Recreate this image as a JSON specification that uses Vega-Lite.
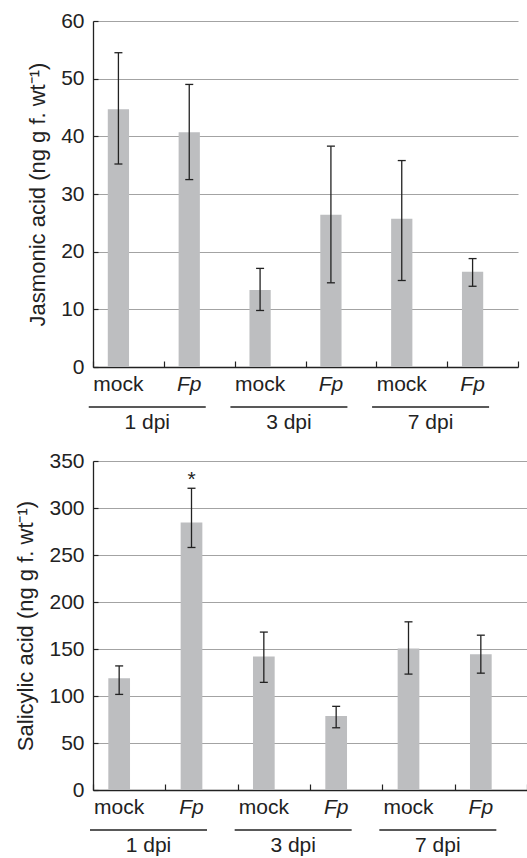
{
  "$schema": "https://vega.github.io/schema/vega-lite/v6.json",
  "padding": {"left": 14, "top": 10, "right": 0, "bottom": 0},
  "spacing": 17,
  "config": {
    "font": "Liberation Sans",
    "view": {"stroke": null},
    "axis": {"labelColor": "#222", "titleColor": "#222", "domainColor": "#222", "tickColor": "#222", "domainWidth": 1.3, "tickWidth": 1.2, "labelFontWeight": "normal", "titleFontWeight": "normal"}
  },
  "datasets": {
    "ja": [
      {"dpi": "1 dpi", "treat": "mock", "cond": "1 dpi mock", "mean": 44.7, "lo": 35.2, "hi": 54.5, "sig": ""},
      {"dpi": "1 dpi", "treat": "Fp", "cond": "1 dpi Fp", "mean": 40.7, "lo": 32.5, "hi": 49.0, "sig": ""},
      {"dpi": "3 dpi", "treat": "mock", "cond": "3 dpi mock", "mean": 13.35, "lo": 9.8, "hi": 17.1, "sig": ""},
      {"dpi": "3 dpi", "treat": "Fp", "cond": "3 dpi Fp", "mean": 26.4, "lo": 14.6, "hi": 38.3, "sig": ""},
      {"dpi": "7 dpi", "treat": "mock", "cond": "7 dpi mock", "mean": 25.7, "lo": 15.0, "hi": 35.8, "sig": ""},
      {"dpi": "7 dpi", "treat": "Fp", "cond": "7 dpi Fp", "mean": 16.5, "lo": 14.0, "hi": 18.8, "sig": ""}
    ],
    "sa": [
      {"dpi": "1 dpi", "treat": "mock", "cond": "1 dpi mock", "mean": 119, "lo": 101.7, "hi": 132, "sig": ""},
      {"dpi": "1 dpi", "treat": "Fp", "cond": "1 dpi Fp", "mean": 284.5, "lo": 258, "hi": 321, "sig": "*"},
      {"dpi": "3 dpi", "treat": "mock", "cond": "3 dpi mock", "mean": 142, "lo": 114.5, "hi": 168, "sig": ""},
      {"dpi": "3 dpi", "treat": "Fp", "cond": "3 dpi Fp", "mean": 78.6, "lo": 66.2, "hi": 89, "sig": ""},
      {"dpi": "7 dpi", "treat": "mock", "cond": "7 dpi mock", "mean": 150.6, "lo": 123.3, "hi": 178.9, "sig": ""},
      {"dpi": "7 dpi", "treat": "Fp", "cond": "7 dpi Fp", "mean": 144.5, "lo": 124.3, "hi": 164.7, "sig": ""}
    ]
  },
  "vconcat": [
    {
      "width": 425,
      "height": 346,
      "data": {"name": "ja"},
      "encoding": {
        "x": {
          "field": "cond", "type": "nominal",
          "scale": {"domain": ["1 dpi mock", "1 dpi Fp", "3 dpi mock", "3 dpi Fp", "7 dpi mock", "7 dpi Fp"], "paddingInner": 0, "paddingOuter": 0},
          "axis": {"title": null, "labels": false, "tickSize": -6, "tickBand": "extent", "grid": false}
        }
      },
      "layer": [
        {
          "mark": {"type": "bar", "width": {"band": 0.3}, "xOffset": -10, "color": "#bdbec0"},
          "encoding": {
            "y": {
              "field": "mean", "type": "quantitative",
              "scale": {"domain": [0, 60], "nice": false},
              "axis": {
                "title": "Jasmonic acid (ng g f. wt⁻¹)", "values": [0, 10, 20, 30, 40, 50, 60],
                "grid": true, "gridColor": "#a3a3a3", "gridWidth": 1.2,
                "tickSize": -5, "labelPadding": 14, "labelFontSize": 21, "titleFontSize": 22, "titlePadding": 11
              }
            }
          }
        },
        {
          "mark": {"type": "rule", "xOffset": -10, "color": "#222", "strokeWidth": 1.3},
          "encoding": {"y": {"field": "lo", "type": "quantitative"}, "y2": {"field": "hi"}}
        },
        {
          "mark": {"type": "point", "shape": "M-1,0H1", "size": 64, "filled": false, "opacity": 1, "strokeWidth": 1.3, "xOffset": -10, "color": "#222"},
          "encoding": {"y": {"field": "lo", "type": "quantitative"}}
        },
        {
          "mark": {"type": "point", "shape": "M-1,0H1", "size": 64, "filled": false, "opacity": 1, "strokeWidth": 1.3, "xOffset": -10, "color": "#222"},
          "encoding": {"y": {"field": "hi", "type": "quantitative"}}
        },
        {
          "transform": [{"filter": "datum.treat == 'mock'"}],
          "mark": {"type": "text", "fontSize": 21, "xOffset": -10, "yOffset": 24, "baseline": "alphabetic", "align": "center", "color": "#222"},
          "encoding": {"y": {"value": "height"}, "text": {"field": "treat"}}
        },
        {
          "transform": [{"filter": "datum.treat == 'Fp'"}],
          "mark": {"type": "text", "fontSize": 21, "fontStyle": "italic", "xOffset": -10, "yOffset": 24, "baseline": "alphabetic", "align": "center", "color": "#222"},
          "encoding": {"y": {"value": "height"}, "text": {"field": "treat"}}
        },
        {
          "transform": [{"filter": "datum.treat == 'Fp'"}],
          "mark": {"type": "point", "shape": "M-1,0H1", "size": 13689, "filled": false, "opacity": 1, "strokeWidth": 1.3, "xOffset": -52, "yOffset": 40, "color": "#222"},
          "encoding": {"y": {"value": "height"}}
        },
        {
          "transform": [{"filter": "datum.treat == 'Fp'"}],
          "mark": {"type": "text", "fontSize": 21, "xOffset": -52, "yOffset": 62, "baseline": "alphabetic", "align": "center", "color": "#222"},
          "encoding": {"y": {"value": "height"}, "text": {"field": "dpi"}}
        }
      ]
    },
    {
      "width": 434,
      "height": 329,
      "data": {"name": "sa"},
      "encoding": {
        "x": {
          "field": "cond", "type": "nominal",
          "scale": {"domain": ["1 dpi mock", "1 dpi Fp", "3 dpi mock", "3 dpi Fp", "7 dpi mock", "7 dpi Fp"], "paddingInner": 0, "paddingOuter": 0},
          "axis": {"title": null, "labels": false, "tickSize": -6, "tickBand": "extent", "grid": false}
        }
      },
      "layer": [
        {
          "mark": {"type": "bar", "width": {"band": 0.3}, "xOffset": -10, "color": "#bdbec0"},
          "encoding": {
            "y": {
              "field": "mean", "type": "quantitative",
              "scale": {"domain": [0, 350], "nice": false},
              "axis": {
                "title": "Salicylic acid (ng g f. wt⁻¹)", "values": [0, 50, 100, 150, 200, 250, 300, 350],
                "grid": true, "gridColor": "#a3a3a3", "gridWidth": 1.2,
                "tickSize": -5, "labelPadding": 14, "labelFontSize": 21, "titleFontSize": 22, "titlePadding": 11
              }
            }
          }
        },
        {
          "mark": {"type": "rule", "xOffset": -10, "color": "#222", "strokeWidth": 1.3},
          "encoding": {"y": {"field": "lo", "type": "quantitative"}, "y2": {"field": "hi"}}
        },
        {
          "mark": {"type": "point", "shape": "M-1,0H1", "size": 64, "filled": false, "opacity": 1, "strokeWidth": 1.3, "xOffset": -10, "color": "#222"},
          "encoding": {"y": {"field": "lo", "type": "quantitative"}}
        },
        {
          "mark": {"type": "point", "shape": "M-1,0H1", "size": 64, "filled": false, "opacity": 1, "strokeWidth": 1.3, "xOffset": -10, "color": "#222"},
          "encoding": {"y": {"field": "hi", "type": "quantitative"}}
        },
        {
          "mark": {"type": "text", "fontSize": 21, "xOffset": -10, "dy": -2, "baseline": "alphabetic", "align": "center", "color": "#222"},
          "encoding": {"y": {"field": "hi", "type": "quantitative"}, "text": {"field": "sig"}}
        },
        {
          "transform": [{"filter": "datum.treat == 'mock'"}],
          "mark": {"type": "text", "fontSize": 21, "xOffset": -10, "yOffset": 24, "baseline": "alphabetic", "align": "center", "color": "#222"},
          "encoding": {"y": {"value": "height"}, "text": {"field": "treat"}}
        },
        {
          "transform": [{"filter": "datum.treat == 'Fp'"}],
          "mark": {"type": "text", "fontSize": 21, "fontStyle": "italic", "xOffset": -10, "yOffset": 24, "baseline": "alphabetic", "align": "center", "color": "#222"},
          "encoding": {"y": {"value": "height"}, "text": {"field": "treat"}}
        },
        {
          "transform": [{"filter": "datum.treat == 'Fp'"}],
          "mark": {"type": "point", "shape": "M-1,0H1", "size": 13689, "filled": false, "opacity": 1, "strokeWidth": 1.3, "xOffset": -53, "yOffset": 40, "color": "#222"},
          "encoding": {"y": {"value": "height"}}
        },
        {
          "transform": [{"filter": "datum.treat == 'Fp'"}],
          "mark": {"type": "text", "fontSize": 21, "xOffset": -53, "yOffset": 62, "baseline": "alphabetic", "align": "center", "color": "#222"},
          "encoding": {"y": {"value": "height"}, "text": {"field": "dpi"}}
        }
      ]
    }
  ]
}
